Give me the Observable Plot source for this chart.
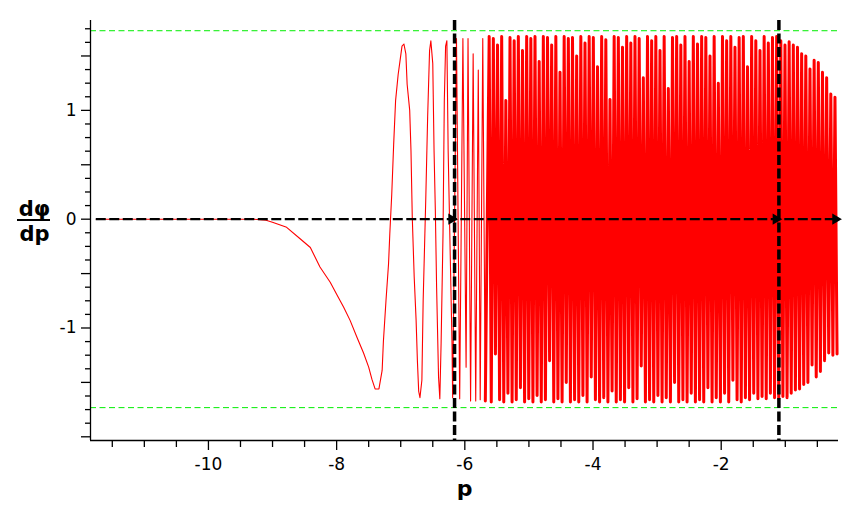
<!DOCTYPE html>
<html><head><meta charset="utf-8">
<script src="https://cdn.jsdelivr.net/npm/d3@7"></script>
<script src="https://cdn.jsdelivr.net/npm/@observablehq/plot@0.6"></script>
<style>body{margin:0;background:#fff}</style>
</head><body><div id="chart"></div>
<script>
// ---- data ----
const xDomain = [-11.84, -0.17];
const yDomain = [-2.034, 1.826];

const xLabelTicks = [-10, -8, -6, -4, -2];
const xMinorTicks = [-11.5,-11,-10.5,-9.5,-9,-8.5,-7.5,-7,-6.5,-5.5,-5,-4.5,-3.5,-3,-2.5,-1.5,-1,-0.5];
const yLabelTicks = [-1, 0, 1];
const yHalfTicks = [-2, -1.5, -0.5, 0.5, 1.5];
const yMinorTicks = [-1.875,-1.75,-1.625,-1.375,-1.25,-1.125,-0.875,-0.75,-0.625,-0.375,-0.25,-0.125,0.125,0.25,0.375,0.625,0.75,0.875,1.125,1.25,1.375,1.625,1.75];

// smooth start of the curve and the first oscillations
const smoothP = [-11.75,-9.30,-9.10,-8.99,-8.78,-8.57,-8.41,-8.26,-8.10,-8.00,-7.89,-7.79,-7.68,-7.58,-7.50,-7.45,-7.40,-7.34,-7.29,-7.27,-7.23,-7.19,-7.17,-7.14,-7.11,-7.08,-7.04,-7.01,-6.98,-6.95,-6.92,-6.90,-6.86,-6.84,-6.82,-6.79,-6.76,-6.74,-6.72,-6.70,-6.67,-6.65,-6.61,-6.58,-6.55,-6.53,-6.50,-6.48,-6.46,-6.44,-6.41,-6.39,-6.37,-6.34,-6.32,-6.30,-6.28,-6.26,-6.20,-6.19];
const smoothV = [0,0,-0.01,-0.03,-0.075,-0.18,-0.26,-0.44,-0.58,-0.69,-0.81,-0.93,-1.09,-1.23,-1.36,-1.47,-1.56,-1.56,-1.39,-1.12,-0.75,-0.41,-0.13,0.23,0.69,1.09,1.33,1.46,1.59,1.61,1.52,1.24,1.00,0.63,0.02,-0.53,-0.93,-1.30,-1.58,-1.64,-1.48,-0.75,0.17,0.94,1.55,1.64,1.43,0.63,0.08,-0.63,-1.45,-1.65,-1.14,-0.13,1.09,1.59,1.64,0.63,-1.14,-1.64];

// sparse fast oscillation (turning points)
const sparseP = [-6.13,-6.08,-6.03,-5.98,-5.95,-5.91,-5.87,-5.83,-5.79,-5.76,-5.72,-5.68];
const sparseV = [1.66,-1.65,1.66,-1.36,1.66,-1.67,1.52,-1.67,1.37,-1.66,1.66,-1.67];

// dense oscillation: successive peak (top) and trough (bottom) values
const denseStart = -5.62;
const denseStep = 0.0325;
const denseTop = [1.68,1.66,1.60,1.68,1.09,1.67,1.64,1.68,1.55,1.68,
  1.66,1.68,1.45,1.68,1.67,1.60,1.68,1.35,1.68,1.66,
  1.67,1.50,1.68,1.62,1.68,1.67,1.40,1.68,1.65,1.10,
  1.68,1.67,1.58,1.68,1.62,1.68,1.66,1.30,1.68,1.64,
  1.68,1.55,1.68,1.20,1.67,1.68,1.60,1.68,1.45,1.68,
  1.61,1.68,1.67,1.50,1.68,1.25,1.68,1.64,1.68,1.58,
  1.67,1.68,1.40,1.68,1.64,1.55,1.68,1.62,1.67,1.68,
  1.64,1.60,1.63,1.60,1.58,1.52,1.50,1.38,1.46,1.44,
  1.35,1.30,1.15,1.12];
const denseBot = [-1.68,-1.24,-1.66,-1.68,-1.60,-1.68,-1.66,-1.55,-1.68,-1.65,
  -1.68,-1.62,-1.68,-1.66,-1.30,-1.68,-1.65,-1.68,-1.50,-1.68,
  -1.66,-1.68,-1.62,-1.68,-1.45,-1.66,-1.68,-1.64,-1.68,-1.58,
  -1.68,-1.66,-1.68,-1.55,-1.68,-1.65,-1.35,-1.68,-1.66,-1.68,
  -1.62,-1.68,-1.64,-1.68,-1.50,-1.68,-1.66,-1.68,-1.60,-1.68,
  -1.66,-1.68,-1.55,-1.68,-1.64,-1.68,-1.60,-1.68,-1.48,-1.66,
  -1.68,-1.64,-1.66,-1.60,-1.65,-1.63,-1.65,-1.60,-1.64,-1.65,
  -1.63,-1.64,-1.60,-1.57,-1.56,-1.52,-1.50,-1.34,-1.45,-1.40,
  -1.30,-1.23,-1.25,-1.24];

const greenLevels = [1.732, -1.732];
const verticalMarks = [-6.16, -1.10];
const zeroLineStart = -11.75;
const arrowTips = [-6.16, -1.10, -0.17];

// ---- build tables ----
const curve = smoothP.map((p, i) => ({p, v: smoothV[i]}))
  .concat(sparseP.map((p, i) => ({p, v: sparseV[i]})));
const dense = [curve[curve.length - 1]];
denseTop.forEach((t, i) => {
  dense.push({p: denseStart + 2 * i * denseStep, v: t});
  dense.push({p: denseStart + (2 * i + 1) * denseStep, v: denseBot[i]});
});

const blank = () => "";
const chart = Plot.plot({
  width: 845,
  height: 517,
  marginLeft: 90,
  marginRight: 7,
  marginTop: 20,
  marginBottom: 77,
  style: {fontFamily: "DejaVu Sans", fontSize: "17px", background: "#fff", color: "#000"},
  x: {domain: xDomain},
  y: {domain: yDomain},
  marks: [
    Plot.line(curve, {x: "p", y: "v", stroke: "#ff0000", strokeWidth: 1.1}),
    Plot.line(dense, {x: "p", y: "v", stroke: "#ff0000", strokeWidth: 3, strokeLinejoin: "round"}),
    Plot.ruleY(greenLevels, {stroke: "#00ee00", strokeWidth: 1, strokeDasharray: "6,3.5"}),
    Plot.ruleY([0], {x1: zeroLineStart, x2: xDomain[1], stroke: "#000", strokeWidth: 2.2, strokeDasharray: "10,3.5"}),
    Plot.dot(arrowTips, {x: d => d, y: 0, symbol: "triangle", rotate: 90, r: 3.2, fill: "#000", stroke: "#000", dx: -3}),
    Plot.ruleX(verticalMarks, {stroke: "#000", strokeWidth: 3.5, strokeDasharray: "10,3.5"}),
    Plot.ruleX([xDomain[0]], {stroke: "#000", strokeWidth: 1.3}),
    Plot.ruleY([yDomain[0]], {stroke: "#000", strokeWidth: 1.3}),
    Plot.axisX({ticks: xLabelTicks, tickSize: 10, tickPadding: 7, tickFormat: d => String(d), label: null, strokeWidth: 1.3}),
    Plot.axisX({ticks: xMinorTicks, tickSize: 7, tickFormat: blank, label: null, strokeWidth: 1.3}),
    Plot.axisY({ticks: yLabelTicks, tickSize: 9, tickPadding: 5, tickFormat: d => String(d), label: null, strokeWidth: 1.3}),
    Plot.axisY({ticks: yHalfTicks, tickSize: 9, tickFormat: blank, label: null, strokeWidth: 1.3}),
    Plot.axisY({ticks: yMinorTicks, tickSize: 5, tickFormat: blank, label: null, strokeWidth: 1.3}),
    Plot.text(["p"], {frameAnchor: "bottom", dy: 48, textAnchor: "middle", lineAnchor: "middle", fontWeight: "bold", fontSize: 22}),
    Plot.text(["dφ"], {frameAnchor: "left", dx: -56, dy: -21, textAnchor: "middle", lineAnchor: "middle", fontWeight: "bold", fontSize: 21}),
    Plot.text(["dp"], {frameAnchor: "left", dx: -56, dy: 4, textAnchor: "middle", lineAnchor: "middle", fontWeight: "bold", fontSize: 21})
  ]
});
// fraction bar of the y label
d3.select(chart).append("line")
  .attr("x1", 17).attr("x2", 50).attr("y1", 220).attr("y2", 220)
  .attr("stroke", "#000").attr("stroke-width", 2.2);
document.getElementById("chart").appendChild(chart);
</script>
</body></html>
